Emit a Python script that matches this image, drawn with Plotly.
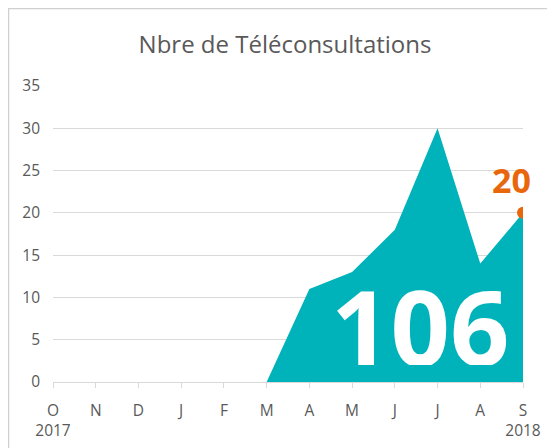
import plotly.graph_objects as go

months = ["O", "N", "D", "J", "F", "M", "A", "M", "J", "J", "A", "S"]
years = ["2017", "", "", "", "", "", "", "", "", "", "", "2018"]
values = [0, 0, 0, 0, 0, 0, 11, 13, 18, 30, 14, 20]
total_label = "106"
title_text = "Nbre de Téléconsultations"

TEAL = "#00B3BA"
ORANGE = "#E8670C"
GREY_TXT = "#595959"
GRID = "#D9D9D9"

xs = list(range(len(months)))
ticktext = [m + ("<br>" + y if y else "") for m, y in zip(months, years)]

fig = go.Figure()
fig.add_trace(go.Scatter(
    x=xs, y=values, mode="lines", fill="tozeroy",
    fillcolor=TEAL, line=dict(width=0, color=TEAL), hoverinfo="skip",
))
fig.add_trace(go.Scatter(
    x=[xs[-1]], y=[values[-1]], mode="markers",
    marker=dict(size=12, color=ORANGE), hoverinfo="skip",
))

# page body has an 8px margin; compensate so the plot sits where the reference has it
OFF = 8
W, H = 555, 448
L, T = 53 - OFF, 86 - OFF
R = W + OFF - 523
B = H + OFF - 382
pw, ph = W - L - R, H - T - B

def px_to_paper_x(px):
    return (px - L) / pw

def px_to_paper_y(py):
    return (H - B - py) / ph

fig.add_annotation(x=8.6, y=6.75, xref="x", yref="y", text=total_label,
                   showarrow=False, height=80,
                   font=dict(family="Open Sans", size=104, color="white", weight="bold"))
fig.add_annotation(x=xs[-1] - 0.28, y=values[-1] + 3.9, xref="x", yref="y",
                   text=str(values[-1]), showarrow=False, height=30,
                   font=dict(family="Open Sans", size=34, color=ORANGE, weight="bold"))

fig.add_shape(type="rect", xref="paper", yref="paper",
              x0=px_to_paper_x(0.5), x1=px_to_paper_x(700),
              y0=px_to_paper_y(700), y1=px_to_paper_y(0.5),
              line=dict(color="#D0D0D0", width=1.5), layer="below")

fig.update_layout(
    width=W, height=H,
    margin=dict(l=L, r=R, t=T, b=B),
    paper_bgcolor="white", plot_bgcolor="white",
    showlegend=False,
    title=dict(text=title_text, x=px_to_paper_x(285 - OFF), xref="paper", xanchor="center",
               y=1 - (45 - OFF) / H, yanchor="middle",
               font=dict(family="Open Sans", size=24, color=GREY_TXT)),
    font=dict(family="Open Sans", size=15.5, color=GREY_TXT),
)
fig.update_xaxes(
    range=[0, 11], tickmode="array", tickvals=xs, ticktext=ticktext,
    showgrid=False, zeroline=False, showline=True, linecolor=GRID, linewidth=1,
    ticks="outside", ticklen=5, tickcolor=GRID, ticklabelstandoff=9, fixedrange=True,
    tickfont=dict(size=15.5, color=GREY_TXT),
)
fig.update_yaxes(
    range=[0, 35], dtick=5, showgrid=True, gridcolor=GRID, gridwidth=1,
    zeroline=False, showline=False, ticks="", ticklabelstandoff=12,
    tickfont=dict(size=15.5, color=GREY_TXT), fixedrange=True,
)

fig.write_html("out.html")
